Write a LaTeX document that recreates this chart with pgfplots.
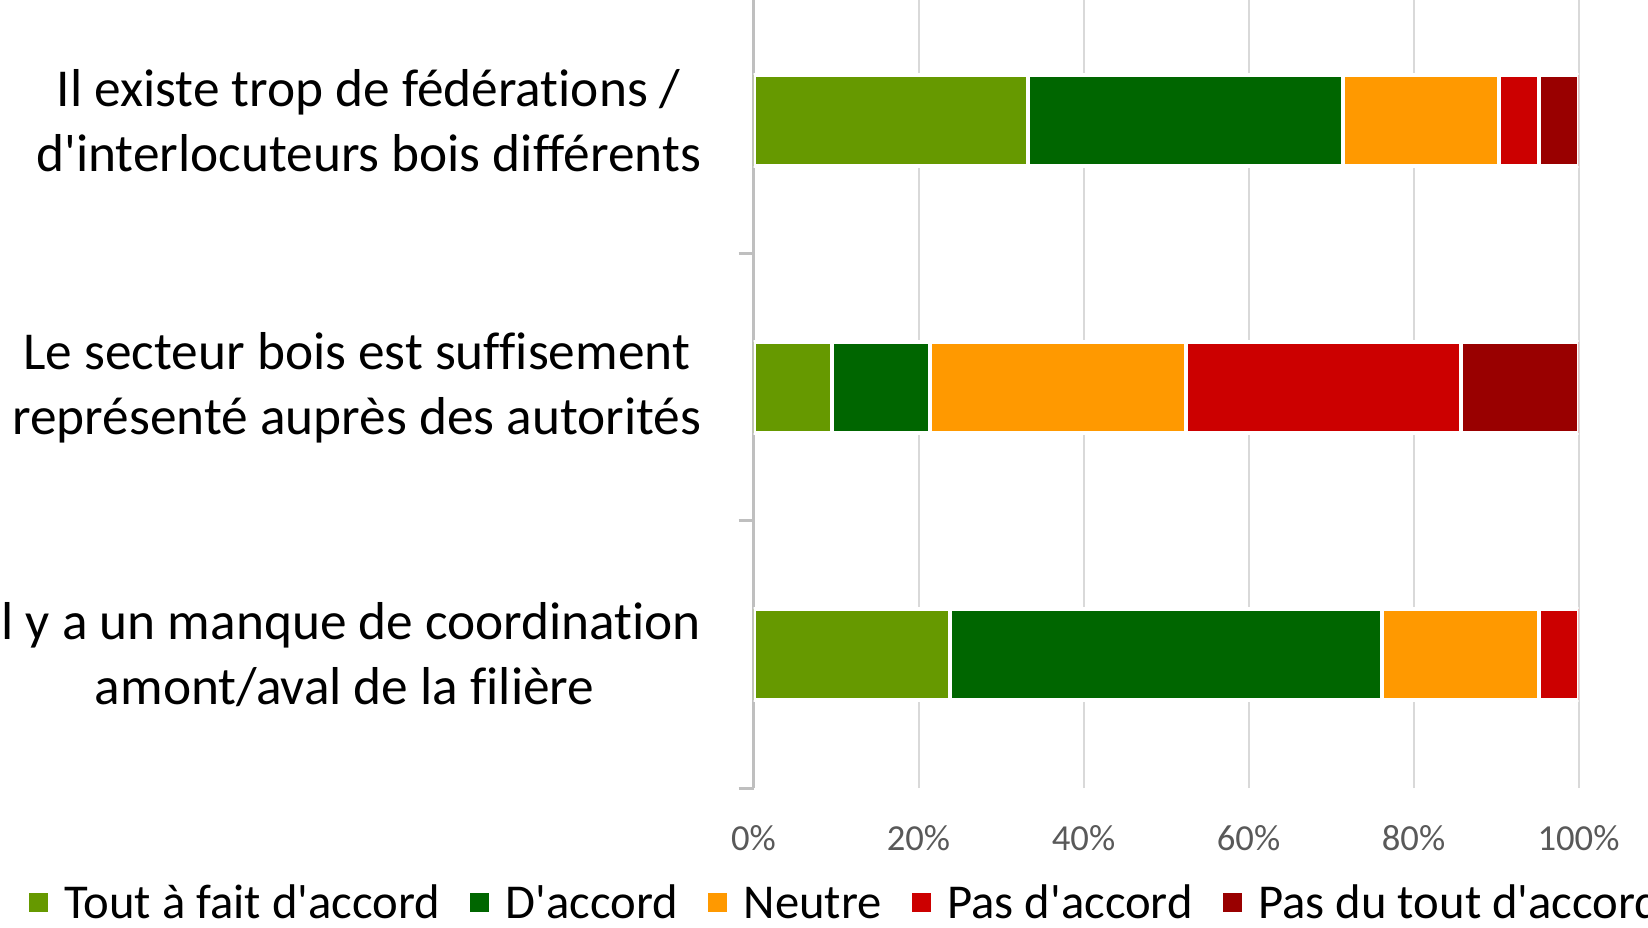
\documentclass[border=0pt]{standalone}
\usepackage{pgfplots}
\pgfplotsset{compat=1.18}
\usepackage{pgfplotstable}
\usepackage{fontspec}
\setmainfont{Carlito}[Ligatures={TeXOff,NoCommon}]
\definecolor{ctafa}{HTML}{669900}
\definecolor{cacc}{HTML}{006600}
\definecolor{cneu}{HTML}{FF9900}
\definecolor{cpas}{HTML}{CC0000}
\definecolor{cpdt}{HTML}{990000}
\definecolor{gridc}{HTML}{D9D9D9}
\definecolor{axc}{HTML}{BFBFBF}
\definecolor{tickc}{HTML}{595959}
\pgfplotstableread{
cat A B C D E
0 23.8 52.4 19.0 4.8 0
1 9.5 11.9 31.0 33.3 14.3
2 33.3 38.1 19.0 4.8 4.8
}\data
\begin{document}
\begin{tikzpicture}
\useasboundingbox (0,0) rectangle (494.4pt,278.1pt);
\clip (0,0) rectangle (494.4pt,278.1pt);
\begin{axis}[
  at={(226.05pt,41.7pt)}, anchor=south west,
  scale only axis, width=247.5pt, height=240.3pt,
  xbar stacked, bar width=0.34,
  xmin=0, xmax=100, ymin=-0.5, ymax=2.5,
  axis lines*=left,
  x axis line style={draw=none},
  y axis line style={draw=axc, line width=0.9pt},
  xtick={0,20,40,60,80,100},
  xticklabel={\pgfmathprintnumber{\tick}\%},
  /pgf/number format/assume math mode=true,
  xticklabel style={inner sep=0pt, anchor=north, yshift=-11pt, text=tickc, font=\fontsize{11}{13}\selectfont},
  xmajorgrids, major grid style={draw=gridc, line width=0.6pt},
  major tick length=0pt,
  ytick={0,1,2},
  yticklabels={{Il y a un manque de coordination\\amont/aval de la filière},
               {Le secteur bois est suffisement\\représenté auprès des autorités},
               {Il existe trop de fédérations /\\d'interlocuteurs bois différents}},
  yticklabel style={align=center, inner sep=0pt, xshift=-15.5pt, font=\fontsize{16}{19.5}\selectfont},
  extra y ticks={-0.5,0.5,1.5,2.5},
  extra y tick labels={},
  extra y tick style={major tick length=4.5pt, tick align=outside, tick style={draw=axc, line width=0.9pt}, ymajorgrids=false},
  legend columns=-1,
  legend style={draw=none, fill=none, inner sep=0pt, anchor=west,
    at={(rel axis cs:-0.8795,-0.1525)},
    font=\fontsize{14.6}{17}\selectfont,
    /tikz/every odd column/.append style={column sep=5pt},
    /tikz/every even column/.append style={column sep=9pt},
    nodes={inner xsep=0pt, text depth=0.22em, text height=0.7em}},
  legend image code/.code={\fill[#1, draw=none] (0pt,-0.7pt) rectangle (5.7pt,5.0pt);},
]
\addplot[fill=ctafa, draw=white, line width=1.2pt] table[x=A,y=cat]{\data};
\addplot[fill=cacc, draw=white, line width=1.2pt] table[x=B,y=cat]{\data};
\addplot[fill=cneu, draw=white, line width=1.2pt] table[x=C,y=cat]{\data};
\addplot[fill=cpas, draw=white, line width=1.2pt] table[x=D,y=cat]{\data};
\addplot[fill=cpdt, draw=white, line width=1.2pt] table[x=E,y=cat]{\data};
\legend{Tout à fait d'accord, D'accord, Neutre, Pas d'accord, Pas du tout d'accord}
\end{axis}
\end{tikzpicture}
\end{document}
